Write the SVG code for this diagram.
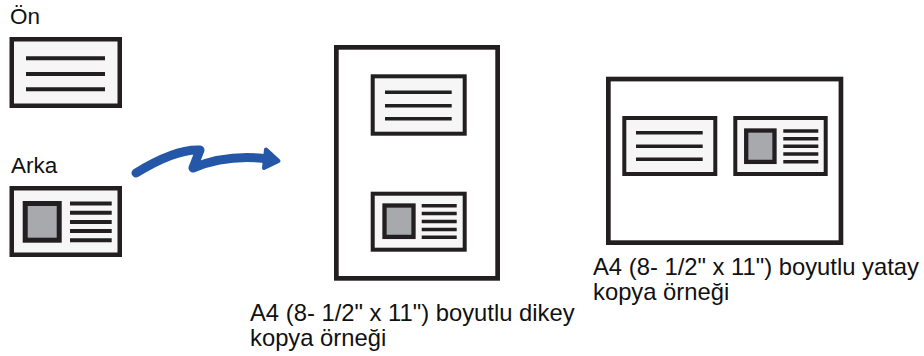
<svg xmlns="http://www.w3.org/2000/svg" width="924" height="356" viewBox="0 0 924 356">
<style>
.card{fill:#f6f6f6;stroke:#231f20;stroke-width:4.5}
.card-s{fill:#f6f6f6;stroke:#231f20;stroke-width:4}
.page{fill:#ffffff;stroke:#231f20;stroke-width:4.7}
.ln{stroke:#231f20;stroke-width:4;fill:none}
.ln-s{stroke:#231f20;stroke-width:3.5;fill:none}
.photo{fill:#a7a9ac;stroke:#231f20;stroke-width:5}
.photo-s{fill:#a7a9ac;stroke:#231f20;stroke-width:4.3}
.lbl{font-family:"Liberation Sans",Arial,sans-serif;fill:#111111}
.arrow{stroke:#2457a7;fill:none;stroke-width:9;stroke-linecap:round;stroke-linejoin:round}
</style>
<rect width="924" height="356" fill="#ffffff"/>

<g id="front">
<text class="lbl" x="10" y="24" font-size="22.5">Ön</text>
<rect class="card" x="11.75" y="39.25" width="108" height="66.5"/>
<path class="ln" d="M26 58.3H105M26 74H105M26 89.3H105"/>
</g>

<g id="back">
<text class="lbl" x="11" y="172.7" font-size="22.5">Arka</text>
<rect class="card" x="11.75" y="188.25" width="108" height="66.5"/>
<rect class="photo" x="25.2" y="203.5" width="34" height="36.7"/>
<path class="ln" d="M70 203.5H111.7M70 212.7H111.7M70 221.9H111.7M70 231.1H111.7M70 240.3H111.7"/>
</g>

<g id="portrait">
<rect class="page" x="336.35" y="47.35" width="161.3" height="231"/>
<rect class="card-s" x="372.7" y="76.3" width="92" height="57.4"/>
<path class="ln-s" d="M385 92.3H451.7M385 105.7H451.7M385 118.7H451.7"/>
<rect class="card-s" x="372.7" y="193.7" width="92" height="56"/>
<rect class="photo-s" x="384.5" y="205.5" width="29" height="31.4"/>
<path class="ln-s" d="M421.7 205.7H456.7M421.7 213.5H456.7M421.7 221.5H456.7M421.7 229.4H456.7M421.7 237.3H456.7"/>
<text class="lbl" font-size="23.8"><tspan x="250" y="320.7">A4 (8- 1/2" x 11") boyutlu dikey</tspan><tspan x="250" y="346">kopya örneği</tspan></text>
</g>

<g id="landscape">
<rect class="page" x="608.35" y="79.05" width="232.6" height="163.6"/>
<rect class="card-s" x="624.3" y="118" width="91" height="56"/>
<path class="ln-s" d="M636 132.7H702.7M636 146.2H702.7M636 159.3H702.7"/>
<rect class="card-s" x="735.3" y="118" width="90.4" height="56"/>
<rect class="photo-s" x="746.2" y="130.5" width="28.3" height="31.4"/>
<path class="ln-s" d="M783.3 131H818.3M783.3 138.7H818.3M783.3 146.3H818.3M783.3 154H818.3M783.3 161.7H818.3"/>
<text class="lbl" font-size="23.8"><tspan x="593" y="275">A4 (8- 1/2" x 11") boyutlu yatay</tspan><tspan x="593" y="299.5">kopya örneği</tspan></text>
</g>

<g id="connectors">
<path class="arrow" d="M136 173C157 160 180 149 200 150L193 168C215 159 240 156 264 158.5"/>
<polygon points="266,149.5 278.5,161 264,168" fill="#2457a7" stroke="#2457a7" stroke-width="4" stroke-linejoin="round"/>
</g>
</svg>
